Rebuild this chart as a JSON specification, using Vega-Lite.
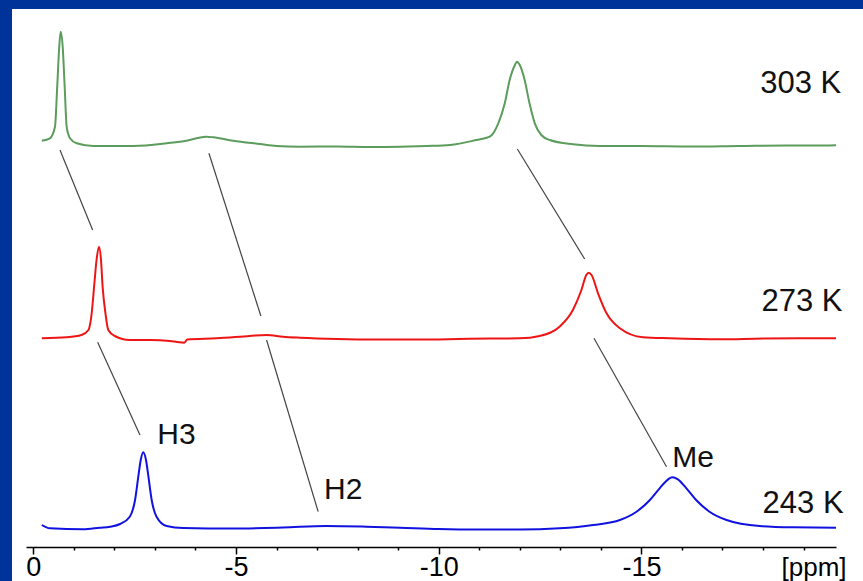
{
  "$schema": "https://vega.github.io/schema/vega-lite/v6.json",
  "width": 851,
  "height": 572,
  "autosize": {"type": "none"},
  "padding": {"left": 12, "top": 9, "right": 0, "bottom": 0},
  "background": "#003399",
  "config": {
    "view": {"fill": "white", "stroke": null},
    "text": {"font": "Liberation Sans", "color": "#111111"}
  },
  "datasets": {
    "spectra": [
      {"T": "303 K", "ppm": -0.21, "y": 81.26},
      {"T": "303 K", "ppm": -0.41, "y": 81.74},
      {"T": "303 K", "ppm": -0.535, "y": 84.06},
      {"T": "303 K", "ppm": -0.59, "y": 92.06},
      {"T": "303 K", "ppm": -0.64, "y": 100.06},
      {"T": "303 K", "ppm": -0.675, "y": 103.06},
      {"T": "303 K", "ppm": -0.725, "y": 100.06},
      {"T": "303 K", "ppm": -0.774, "y": 92.06},
      {"T": "303 K", "ppm": -0.823, "y": 84.06},
      {"T": "303 K", "ppm": -0.905, "y": 81.74},
      {"T": "303 K", "ppm": -1.07, "y": 80.74},
      {"T": "303 K", "ppm": -1.48, "y": 80.2},
      {"T": "303 K", "ppm": -1.64, "y": 80.2},
      {"T": "303 K", "ppm": -2.47, "y": 80.2},
      {"T": "303 K", "ppm": -3.29, "y": 80.74},
      {"T": "303 K", "ppm": -3.78, "y": 81.26},
      {"T": "303 K", "ppm": -4.03, "y": 81.74},
      {"T": "303 K", "ppm": -4.27, "y": 82.06},
      {"T": "303 K", "ppm": -4.44, "y": 81.94},
      {"T": "303 K", "ppm": -4.93, "y": 81.26},
      {"T": "303 K", "ppm": -5.59, "y": 80.6},
      {"T": "303 K", "ppm": -6.0, "y": 80.2},
      {"T": "303 K", "ppm": -6.58, "y": 80.06},
      {"T": "303 K", "ppm": -7.5, "y": 80.1},
      {"T": "303 K", "ppm": -8.3, "y": 80.0},
      {"T": "303 K", "ppm": -9.05, "y": 80.06},
      {"T": "303 K", "ppm": -9.7, "y": 80.2},
      {"T": "303 K", "ppm": -10.28, "y": 80.4},
      {"T": "303 K", "ppm": -10.93, "y": 81.4},
      {"T": "303 K", "ppm": -11.26, "y": 82.06},
      {"T": "303 K", "ppm": -11.47, "y": 84.74},
      {"T": "303 K", "ppm": -11.63, "y": 88.74},
      {"T": "303 K", "ppm": -11.75, "y": 93.4},
      {"T": "303 K", "ppm": -11.88, "y": 96.4},
      {"T": "303 K", "ppm": -11.93, "y": 97.06},
      {"T": "303 K", "ppm": -12.0, "y": 96.4},
      {"T": "303 K", "ppm": -12.12, "y": 93.4},
      {"T": "303 K", "ppm": -12.24, "y": 88.74},
      {"T": "303 K", "ppm": -12.37, "y": 84.74},
      {"T": "303 K", "ppm": -12.53, "y": 82.4},
      {"T": "303 K", "ppm": -12.74, "y": 81.4},
      {"T": "303 K", "ppm": -13.31, "y": 80.54},
      {"T": "303 K", "ppm": -13.97, "y": 80.2},
      {"T": "303 K", "ppm": -15.0, "y": 80.2},
      {"T": "303 K", "ppm": -16.2, "y": 80.1},
      {"T": "303 K", "ppm": -17.4, "y": 80.2},
      {"T": "303 K", "ppm": -18.6, "y": 80.3},
      {"T": "303 K", "ppm": -19.5, "y": 80.3},
      {"T": "303 K", "ppm": -19.8, "y": 80.34},

      {"T": "273 K", "ppm": -0.21, "y": 41.74},
      {"T": "273 K", "ppm": -0.82, "y": 41.94},
      {"T": "273 K", "ppm": -1.19, "y": 42.4},
      {"T": "273 K", "ppm": -1.36, "y": 43.4},
      {"T": "273 K", "ppm": -1.44, "y": 46.74},
      {"T": "273 K", "ppm": -1.5, "y": 52.06},
      {"T": "273 K", "ppm": -1.56, "y": 57.4},
      {"T": "273 K", "ppm": -1.62, "y": 60.06},
      {"T": "273 K", "ppm": -1.67, "y": 57.4},
      {"T": "273 K", "ppm": -1.71, "y": 52.06},
      {"T": "273 K", "ppm": -1.78, "y": 46.74},
      {"T": "273 K", "ppm": -1.85, "y": 43.4},
      {"T": "273 K", "ppm": -2.01, "y": 42.2},
      {"T": "273 K", "ppm": -2.38, "y": 41.4},
      {"T": "273 K", "ppm": -2.88, "y": 41.4},
      {"T": "273 K", "ppm": -3.37, "y": 41.2},
      {"T": "273 K", "ppm": -3.55, "y": 41.0},
      {"T": "273 K", "ppm": -3.72, "y": 40.85},
      {"T": "273 K", "ppm": -3.8, "y": 41.5},
      {"T": "273 K", "ppm": -4.52, "y": 41.74},
      {"T": "273 K", "ppm": -5.34, "y": 42.2},
      {"T": "273 K", "ppm": -5.75, "y": 42.4},
      {"T": "273 K", "ppm": -6.16, "y": 42.06},
      {"T": "273 K", "ppm": -6.58, "y": 41.86},
      {"T": "273 K", "ppm": -7.5, "y": 41.6},
      {"T": "273 K", "ppm": -8.5, "y": 41.5},
      {"T": "273 K", "ppm": -9.5, "y": 41.5},
      {"T": "273 K", "ppm": -10.5, "y": 41.6},
      {"T": "273 K", "ppm": -11.3, "y": 41.7},
      {"T": "273 K", "ppm": -12.0, "y": 41.74},
      {"T": "273 K", "ppm": -12.49, "y": 42.2},
      {"T": "273 K", "ppm": -12.98, "y": 44.06},
      {"T": "273 K", "ppm": -13.31, "y": 47.4},
      {"T": "273 K", "ppm": -13.52, "y": 51.4},
      {"T": "273 K", "ppm": -13.64, "y": 54.4},
      {"T": "273 K", "ppm": -13.7, "y": 54.86},
      {"T": "273 K", "ppm": -13.77, "y": 54.4},
      {"T": "273 K", "ppm": -13.93, "y": 50.74},
      {"T": "273 K", "ppm": -14.14, "y": 46.74},
      {"T": "273 K", "ppm": -14.47, "y": 43.74},
      {"T": "273 K", "ppm": -15.04, "y": 41.94},
      {"T": "273 K", "ppm": -15.7, "y": 41.74},
      {"T": "273 K", "ppm": -16.93, "y": 41.54},
      {"T": "273 K", "ppm": -18.0, "y": 41.7},
      {"T": "273 K", "ppm": -18.97, "y": 41.74},
      {"T": "273 K", "ppm": -19.8, "y": 41.74},

      {"T": "243 K", "ppm": -0.21, "y": 4.4},
      {"T": "243 K", "ppm": -0.41, "y": 3.74},
      {"T": "243 K", "ppm": -1.23, "y": 3.54},
      {"T": "243 K", "ppm": -1.64, "y": 3.86},
      {"T": "243 K", "ppm": -1.89, "y": 4.06},
      {"T": "243 K", "ppm": -2.14, "y": 4.6},
      {"T": "243 K", "ppm": -2.38, "y": 6.06},
      {"T": "243 K", "ppm": -2.51, "y": 9.4},
      {"T": "243 K", "ppm": -2.59, "y": 14.06},
      {"T": "243 K", "ppm": -2.65, "y": 17.4},
      {"T": "243 K", "ppm": -2.71, "y": 18.94},
      {"T": "243 K", "ppm": -2.78, "y": 17.4},
      {"T": "243 K", "ppm": -2.84, "y": 14.06},
      {"T": "243 K", "ppm": -2.92, "y": 9.4},
      {"T": "243 K", "ppm": -3.04, "y": 6.06},
      {"T": "243 K", "ppm": -3.29, "y": 4.2},
      {"T": "243 K", "ppm": -3.7, "y": 3.8},
      {"T": "243 K", "ppm": -4.93, "y": 3.7},
      {"T": "243 K", "ppm": -6.16, "y": 3.9},
      {"T": "243 K", "ppm": -7.23, "y": 4.2},
      {"T": "243 K", "ppm": -8.22, "y": 4.06},
      {"T": "243 K", "ppm": -9.04, "y": 3.86},
      {"T": "243 K", "ppm": -10.0, "y": 3.6},
      {"T": "243 K", "ppm": -11.0, "y": 3.5},
      {"T": "243 K", "ppm": -12.0, "y": 3.5},
      {"T": "243 K", "ppm": -12.98, "y": 3.74},
      {"T": "243 K", "ppm": -13.81, "y": 4.4},
      {"T": "243 K", "ppm": -14.47, "y": 5.4},
      {"T": "243 K", "ppm": -14.88, "y": 7.06},
      {"T": "243 K", "ppm": -15.21, "y": 9.4},
      {"T": "243 K", "ppm": -15.45, "y": 11.74},
      {"T": "243 K", "ppm": -15.66, "y": 13.54},
      {"T": "243 K", "ppm": -15.76, "y": 13.94},
      {"T": "243 K", "ppm": -15.9, "y": 13.54},
      {"T": "243 K", "ppm": -16.11, "y": 11.74},
      {"T": "243 K", "ppm": -16.35, "y": 9.4},
      {"T": "243 K", "ppm": -16.68, "y": 7.06},
      {"T": "243 K", "ppm": -17.1, "y": 5.4},
      {"T": "243 K", "ppm": -17.92, "y": 4.2},
      {"T": "243 K", "ppm": -18.74, "y": 3.94},
      {"T": "243 K", "ppm": -19.8, "y": 3.86}
    ],
    "links": [
      {"peak": "H3", "ppm": -0.658, "y": 79.4, "ppm2": -1.464, "y2": 63.4},
      {"peak": "H3", "ppm": -1.588, "y": 40.94, "ppm2": -2.631, "y2": 22.4},
      {"peak": "H2", "ppm": -4.332, "y": 78.74, "ppm2": -5.614, "y2": 46.2},
      {"peak": "H2", "ppm": -5.754, "y": 41.4, "ppm2": -7.027, "y2": 7.06},
      {"peak": "Me", "ppm": -11.94, "y": 79.6, "ppm2": -13.6, "y2": 57.6},
      {"peak": "Me", "ppm": -13.83, "y": 41.74, "ppm2": -15.62, "y2": 16.06}
    ],
    "temps": [
      {"label": "303 K", "ppm": -17.93, "y": 90.86},
      {"label": "273 K", "ppm": -17.96, "y": 47.2},
      {"label": "243 K", "ppm": -17.99, "y": 6.86}
    ],
    "peaks": [
      {"label": "H3", "ppm": -3.06, "y": 20.54},
      {"label": "H2", "ppm": -7.17, "y": 9.6},
      {"label": "Me", "ppm": -15.76, "y": 16.06}
    ]
  },
  "layer": [
    {
      "data": {"name": "spectra"},
      "mark": {"type": "line", "interpolate": "monotone", "strokeWidth": 2},
      "encoding": {
        "x": {
          "field": "ppm",
          "type": "quantitative",
          "scale": {"domain": [0.18, -19.8], "range": [14, 824], "nice": false, "zero": false},
          "axis": {
            "values": [0, -1, -2, -3, -4, -5, -6, -7, -8, -9, -10, -11, -12, -13, -14, -15, -16, -17, -18, -19],
            "labelExpr": "datum.value % 5 === 0 ? '' + datum.value : ''",
            "tickSize": {"condition": {"test": "datum.value % 5 === 0", "value": 7}, "value": 3},
            "tickColor": "black",
            "tickWidth": 1.5,
            "domainColor": "black",
            "domainWidth": 1.5,
            "grid": false,
            "offset": -34,
            "labelFont": "Liberation Sans",
            "labelFontSize": 27,
            "labelColor": "black",
            "labelBaseline": "alphabetic",
            "labelPadding": 21,
            "labelFlush": false,
            "labelOverlap": false,
            "title": "[ppm]",
            "titleFont": "Liberation Sans",
            "titleFontSize": 26,
            "titleFontWeight": "normal",
            "titleColor": "black",
            "titleX": 801.5,
            "titleY": 28,
            "titleAlign": "center",
            "titleBaseline": "alphabetic",
            "titleAnchor": null
          }
        },
        "y": {
          "field": "y",
          "type": "quantitative",
          "scale": {"domain": [-6.8, 107.6], "nice": false, "zero": false},
          "axis": null
        },
        "color": {
          "field": "T",
          "type": "nominal",
          "scale": {"domain": ["303 K", "273 K", "243 K"], "range": ["#5c9c5c", "#ee1515", "#1212e0"]},
          "legend": null
        }
      }
    },
    {
      "data": {"name": "links"},
      "mark": {"type": "rule", "color": "#444444", "strokeWidth": 1.2},
      "encoding": {
        "x": {"field": "ppm", "type": "quantitative"},
        "x2": {"field": "ppm2"},
        "y": {"field": "y", "type": "quantitative", "axis": null},
        "y2": {"field": "y2"}
      }
    },
    {
      "data": {"name": "temps"},
      "mark": {"type": "text", "fontSize": 31, "align": "left", "baseline": "alphabetic"},
      "encoding": {
        "x": {"field": "ppm", "type": "quantitative"},
        "y": {"field": "y", "type": "quantitative", "axis": null},
        "text": {"field": "label"}
      }
    },
    {
      "data": {"name": "peaks"},
      "mark": {"type": "text", "fontSize": 30, "align": "left", "baseline": "alphabetic"},
      "encoding": {
        "x": {"field": "ppm", "type": "quantitative"},
        "y": {"field": "y", "type": "quantitative", "axis": null},
        "text": {"field": "label"}
      }
    }
  ]
}
